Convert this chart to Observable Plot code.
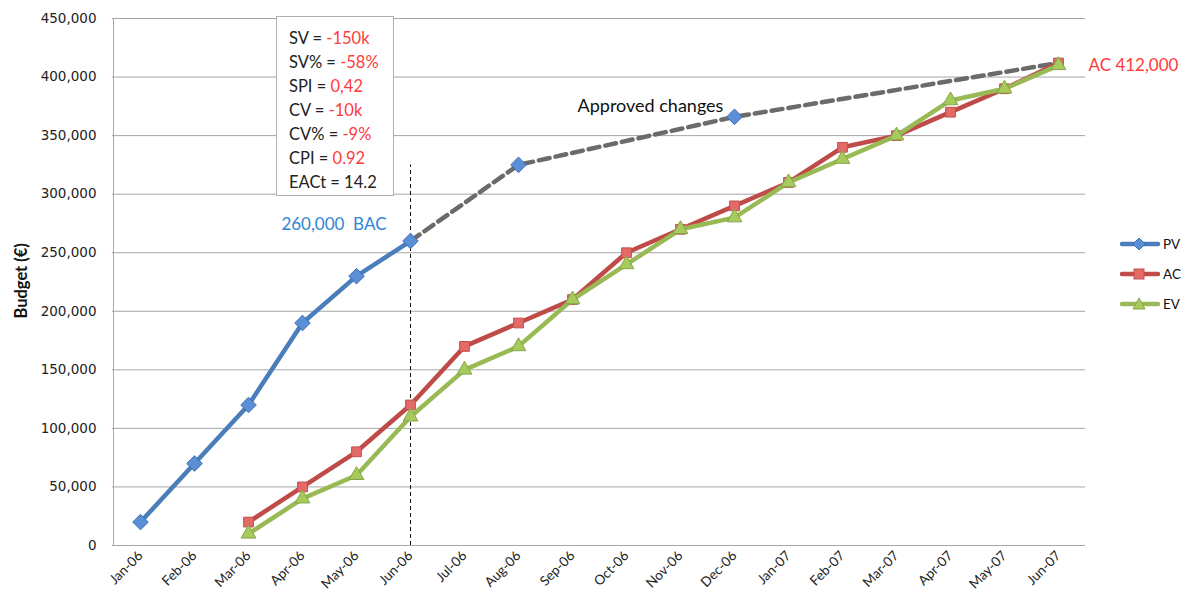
<!DOCTYPE html>
<html><head><meta charset="utf-8">
<script src="https://cdn.jsdelivr.net/npm/d3@7"></script>
<script src="https://cdn.jsdelivr.net/npm/@observablehq/plot@0.6"></script>
<style>
body{margin:0;background:#fff;}
#wrap{position:relative;width:1204px;height:606px;font-family:Lato,"Open Sans",sans-serif;}
#box{position:absolute;left:276px;top:16px;width:118px;height:180px;border:1px solid #b0b0b0;background:#fff;padding:9px 0 0 12px;box-sizing:border-box;font-size:16.5px;line-height:24px;color:#222;}
#box .v{color:#ff3b3b;}
#box .k{color:#222;}
#legend{position:absolute;left:1120px;top:229px;font-size:13.5px;color:#111;}
#legend .row{display:flex;align-items:center;height:30px;}
#legend svg{margin-right:3px;}
</style></head><body><div id="wrap"></div>
<script>
const months = ["Jan-06","Feb-06","Mar-06","Apr-06","May-06","Jun-06","Jul-06","Aug-06","Sep-06","Oct-06","Nov-06","Dec-06","Jan-07","Feb-07","Mar-07","Apr-07","May-07","Jun-07"];
const pvMonths = ["Jan-06","Feb-06","Mar-06","Apr-06","May-06","Jun-06"];
const pvValues = [20000,70000,120000,190000,230000,260000];
const acMonths = months.slice(2);
const acValues = [20000,50000,80000,120000,170000,190000,210000,250000,270000,290000,310000,340000,350000,370000,390000,412000];
const evMonths = months.slice(2);
const evValues = [10000,40000,60000,110000,150000,170000,210000,240000,270000,280000,310000,330000,350000,380000,390000,410000];
const approvedMonths = ["Jun-06","Aug-06","Dec-06","Jun-07"];
const approvedValues = [260000,325000,366000,412000];
const pvExtraMonths = ["Aug-06","Dec-06"];
const pvExtraValues = [325000,366000];
const yTicks = [0,50000,100000,150000,200000,250000,300000,350000,400000,450000];
const metricLabels = ["SV","SV%","SPI","CV","CV%","CPI","EACt"];
const metricValues = ["-150k","-58%","0,42","-10k","-9%","0.92","14.2"];
const metricRed = [true,true,true,true,true,true,false];
const seriesNames = ["PV","AC","EV"];
const statusLine = {month:"Jun-06", top:325000};

const C = {pv:"#4a7ebb", pvM:"#5b8fd6", pvS:"#3c6cb0", ac:"#be4b48", acM:"#e46a68", acS:"#c0504d", ev:"#98b954", evM:"#a6cb5c", evS:"#86a646", gray:"#6b6b6b", grid:"#a6a6a6"};

const pv = pvMonths.map((m,i)=>({m, v:pvValues[i]}));
const ac = acMonths.map((m,i)=>({m, v:acValues[i]}));
const ev = evMonths.map((m,i)=>({m, v:evValues[i]}));
const ap = approvedMonths.map((m,i)=>({m, v:approvedValues[i]}));
const pvX = pvExtraMonths.map((m,i)=>({m, v:pvExtraValues[i]}));

const chart = Plot.plot({
  width:1204, height:606,
  marginLeft:112, marginRight:119, marginTop:18, marginBottom:61,
  style:{fontFamily:"Lato, sans-serif", background:"#fff"},
  x:{type:"point", domain:months, padding:0.5},
  y:{domain:[0,450000]},
  marks:[
    Plot.ruleY(yTicks, {stroke:C.grid, strokeWidth:1}),
    Plot.ruleX([months[0]], {y1:0, y2:450000, stroke:C.grid, strokeWidth:1, dx:-27}),
    Plot.axisY({ticks:yTicks, tickFormat:d3.format(","), tickSize:0, tickPadding:16, fontSize:13.5, fontFamily:"DejaVu Sans", fill:"#222", label:null}),
    Plot.axisX({tickRotate:-45, tickSize:0, tickPadding:8, fontSize:13.5, fontFamily:"Lato", fill:"#222", label:null}),
    Plot.text([{v:226000}], {y:"v", frameAnchor:"left", textAnchor:"middle", lineAnchor:"middle", rotate:-90, dx:-91, text:()=>"Budget (€)", fontWeight:"bold", fontSize:16.5, fontFamily:"Lato", fill:"#111"}),
    Plot.ruleX([statusLine], {x:"month", y1:0, y2:"top", stroke:"#111", strokeWidth:1, strokeDasharray:"4,3"}),
    Plot.line(ap, {x:"m", y:"v", stroke:C.gray, strokeWidth:4.5, strokeDasharray:"11,6"}),
    Plot.line(pv, {x:"m", y:"v", stroke:C.pv, strokeWidth:4.5}),
    Plot.dot(pv.concat(pvX), {x:"m", y:"v", symbol:"diamond2", r:7, fill:C.pvM, stroke:C.pvS, strokeWidth:1}),
    Plot.line(ac, {x:"m", y:"v", stroke:C.ac, strokeWidth:4.5}),
    Plot.dot(ac, {x:"m", y:"v", symbol:"square", r:5.5, fill:C.acM, stroke:C.acS, strokeWidth:1}),
    Plot.line(ev, {x:"m", y:"v", stroke:C.ev, strokeWidth:4.5}),
    Plot.dot(ev, {x:"m", y:"v", symbol:"triangle", r:5.5, fill:C.evM, stroke:C.evS, strokeWidth:1}),
    Plot.text([pv[pv.length-1]], {x:"m", y:"v", text:d=>d3.format(",")(d.v)+"  BAC", textAnchor:"end", dx:-24, dy:-16, fill:"#2e86d6", fontSize:17, fontFamily:"Lato"}),
    Plot.text([ac[ac.length-1]], {x:"m", y:"v", text:d=>"AC "+d3.format(",")(d.v), textAnchor:"start", dx:30, dy:3, fill:"#ff3b3b", fontSize:17, fontFamily:"Lato"}),
    Plot.text([{m:"Oct-06", v:375000}], {x:"m", y:"v", text:()=>"Approved changes", textAnchor:"middle", dx:24, fill:"#111", fontSize:18, fontFamily:"Lato"})
  ]
});
const wrap = document.getElementById("wrap");
wrap.appendChild(chart);

const box = document.createElement("div");
box.id = "box";
box.innerHTML = metricLabels.map((k,i)=>`<div><span class="k">${k} = </span><span class="${metricRed[i]?'v':'k'}">${metricValues[i]}</span></div>`).join("");
wrap.appendChild(box);

const legendStyles = [
  {line:C.pv, sym:`<path d="M19 1 L25 7 L19 13 L13 7 Z" fill="${C.pvM}" stroke="${C.pvS}"/>`},
  {line:C.ac, sym:`<rect x="14" y="2" width="10" height="10" fill="${C.acM}" stroke="${C.acS}"/>`},
  {line:C.ev, sym:`<path d="M19 1 L25 12 L13 12 Z" fill="${C.evM}" stroke="${C.evS}"/>`}
];
const legend = document.createElement("div");
legend.id = "legend";
legend.innerHTML = seriesNames.map((n,i)=>`<div class="row"><svg width="40" height="14"><line x1="2" x2="38" y1="7" y2="7" stroke="${legendStyles[i].line}" stroke-width="4.5" stroke-linecap="round"/>${legendStyles[i].sym}</svg><span>${n}</span></div>`).join("");
wrap.appendChild(legend);
</script></body></html>
